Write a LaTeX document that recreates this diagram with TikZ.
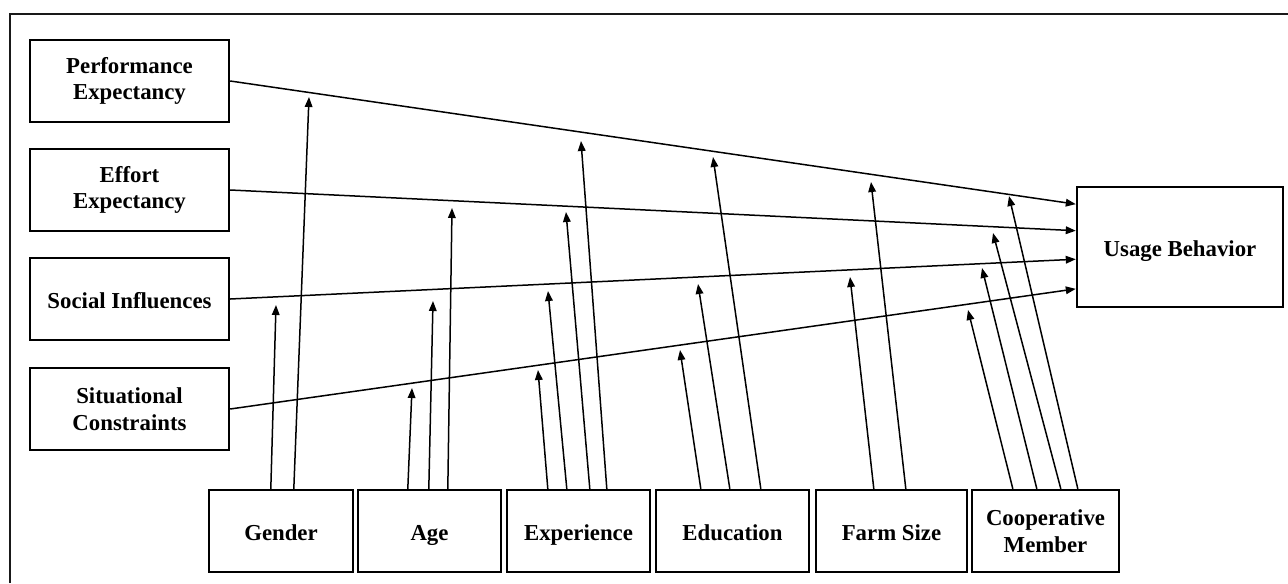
\documentclass[tikz,border=0pt]{standalone}
\usepackage{fontspec}
\setmainfont{Liberation Serif}
\usetikzlibrary{arrows.meta,calc}
\begin{document}
\begin{tikzpicture}[x=0.5pt,y=-0.5pt,
  box/.style={draw,line width=1.2pt,inner sep=0pt,align=center,
    font=\fontsize{11.4}{13.3}\selectfont\bfseries},
  oneline/.style={text height=10.2pt,text depth=1.2pt},
  path/.style={line width=0.75pt,-{Triangle[length=5pt,width=3.8pt]}},
  frame/.style={line width=1.3pt,draw=black!90}]
\useasboundingbox (0,0) rectangle (1288,583);
% outer frame (only top and left edges fall inside the page)
\draw[frame] (10,583) -- (10,14) -- (1288,14);

% constructs
\node[box,minimum width=99.5pt,minimum height=41pt] (PE) at (129.5,81) {Performance\\Expectancy};
\node[box,minimum width=99.5pt,minimum height=41pt] (EE) at (129.5,190) {Effort\\Expectancy};
\node[box,oneline,minimum width=99.5pt,minimum height=41pt] (SI) at (129.5,299) {Social Influences};
\node[box,minimum width=99.5pt,minimum height=41pt] (SC) at (129.5,409) {Situational\\Constraints};
\node[box,oneline,minimum width=103pt,minimum height=60pt] (UB) at (1180,247) {Usage Behavior};

% moderators
\node[box,oneline,minimum width=72pt,minimum height=41pt] (GEN) at (281,531) {Gender};
\node[box,oneline,minimum width=71.5pt,minimum height=41pt] (AGE) at (429.5,531) {Age};
\node[box,oneline,minimum width=71.5pt,minimum height=41pt] (EXP) at (578.5,531) {Experience};
\node[box,oneline,minimum width=76.5pt,minimum height=41pt] (EDU) at (732.5,531) {Education};
\node[box,oneline,minimum width=75.5pt,minimum height=41pt] (FARM) at (891.5,531) {Farm Size};
\node[box,minimum width=73.5pt,minimum height=41pt] (COOP) at (1045.5,531) {Cooperative\\Member};

% main effects
\draw[path] (PE.east) -- ($(UB.north west)!0.15!(UB.south west)$);
\draw[path] (EE.east) -- ($(UB.north west)!0.367!(UB.south west)$);
\draw[path] (SI.east) -- ($(UB.north west)!0.6!(UB.south west)$);
\draw[path] (SC.east) -- ($(UB.north west)!0.842!(UB.south west)$);

% moderating arrow tips
\coordinate (g1) at (276,305);
\coordinate (g2) at (309,97);
\coordinate (a1) at (412,388);
\coordinate (a2) at (433,301);
\coordinate (a3) at (452,208);
\coordinate (e1) at (538,370);
\coordinate (e2) at (548,291);
\coordinate (e3) at (566,212);
\coordinate (e4) at (581,141);
\coordinate (d1) at (680,350);
\coordinate (d2) at (698,284);
\coordinate (d3) at (713,157);
\coordinate (f1) at (850,277);
\coordinate (f2) at (871,182);
\coordinate (c1) at (968,310);
\coordinate (c2) at (982,268);
\coordinate (c3) at (993,233);
\coordinate (c4) at (1009,196);

% moderating effects
\draw[path] ($(GEN.north west)+(63,0)$) -- (g1);
\draw[path] ($(GEN.north west)+(86,0)$) -- (g2);
\draw[path] ($(AGE.north west)+(51,0)$) -- (a1);
\draw[path] ($(AGE.north west)+(72,0)$) -- (a2);
\draw[path] ($(AGE.north west)+(91,0)$) -- (a3);
\draw[path] ($(EXP.north west)+(42,0)$) -- (e1);
\draw[path] ($(EXP.north west)+(61,0)$) -- (e2);
\draw[path] ($(EXP.north west)+(84,0)$) -- (e3);
\draw[path] ($(EXP.north west)+(101,0)$) -- (e4);
\draw[path] ($(EDU.north west)+(46,0)$) -- (d1);
\draw[path] ($(EDU.north west)+(75,0)$) -- (d2);
\draw[path] ($(EDU.north west)+(106,0)$) -- (d3);
\draw[path] ($(FARM.north west)+(59,0)$) -- (f1);
\draw[path] ($(FARM.north west)+(91,0)$) -- (f2);
\draw[path] ($(COOP.north west)+(42,0)$) -- (c1);
\draw[path] ($(COOP.north west)+(66,0)$) -- (c2);
\draw[path] ($(COOP.north west)+(90,0)$) -- (c3);
\draw[path] ($(COOP.north west)+(107,0)$) -- (c4);
\end{tikzpicture}
\end{document}
